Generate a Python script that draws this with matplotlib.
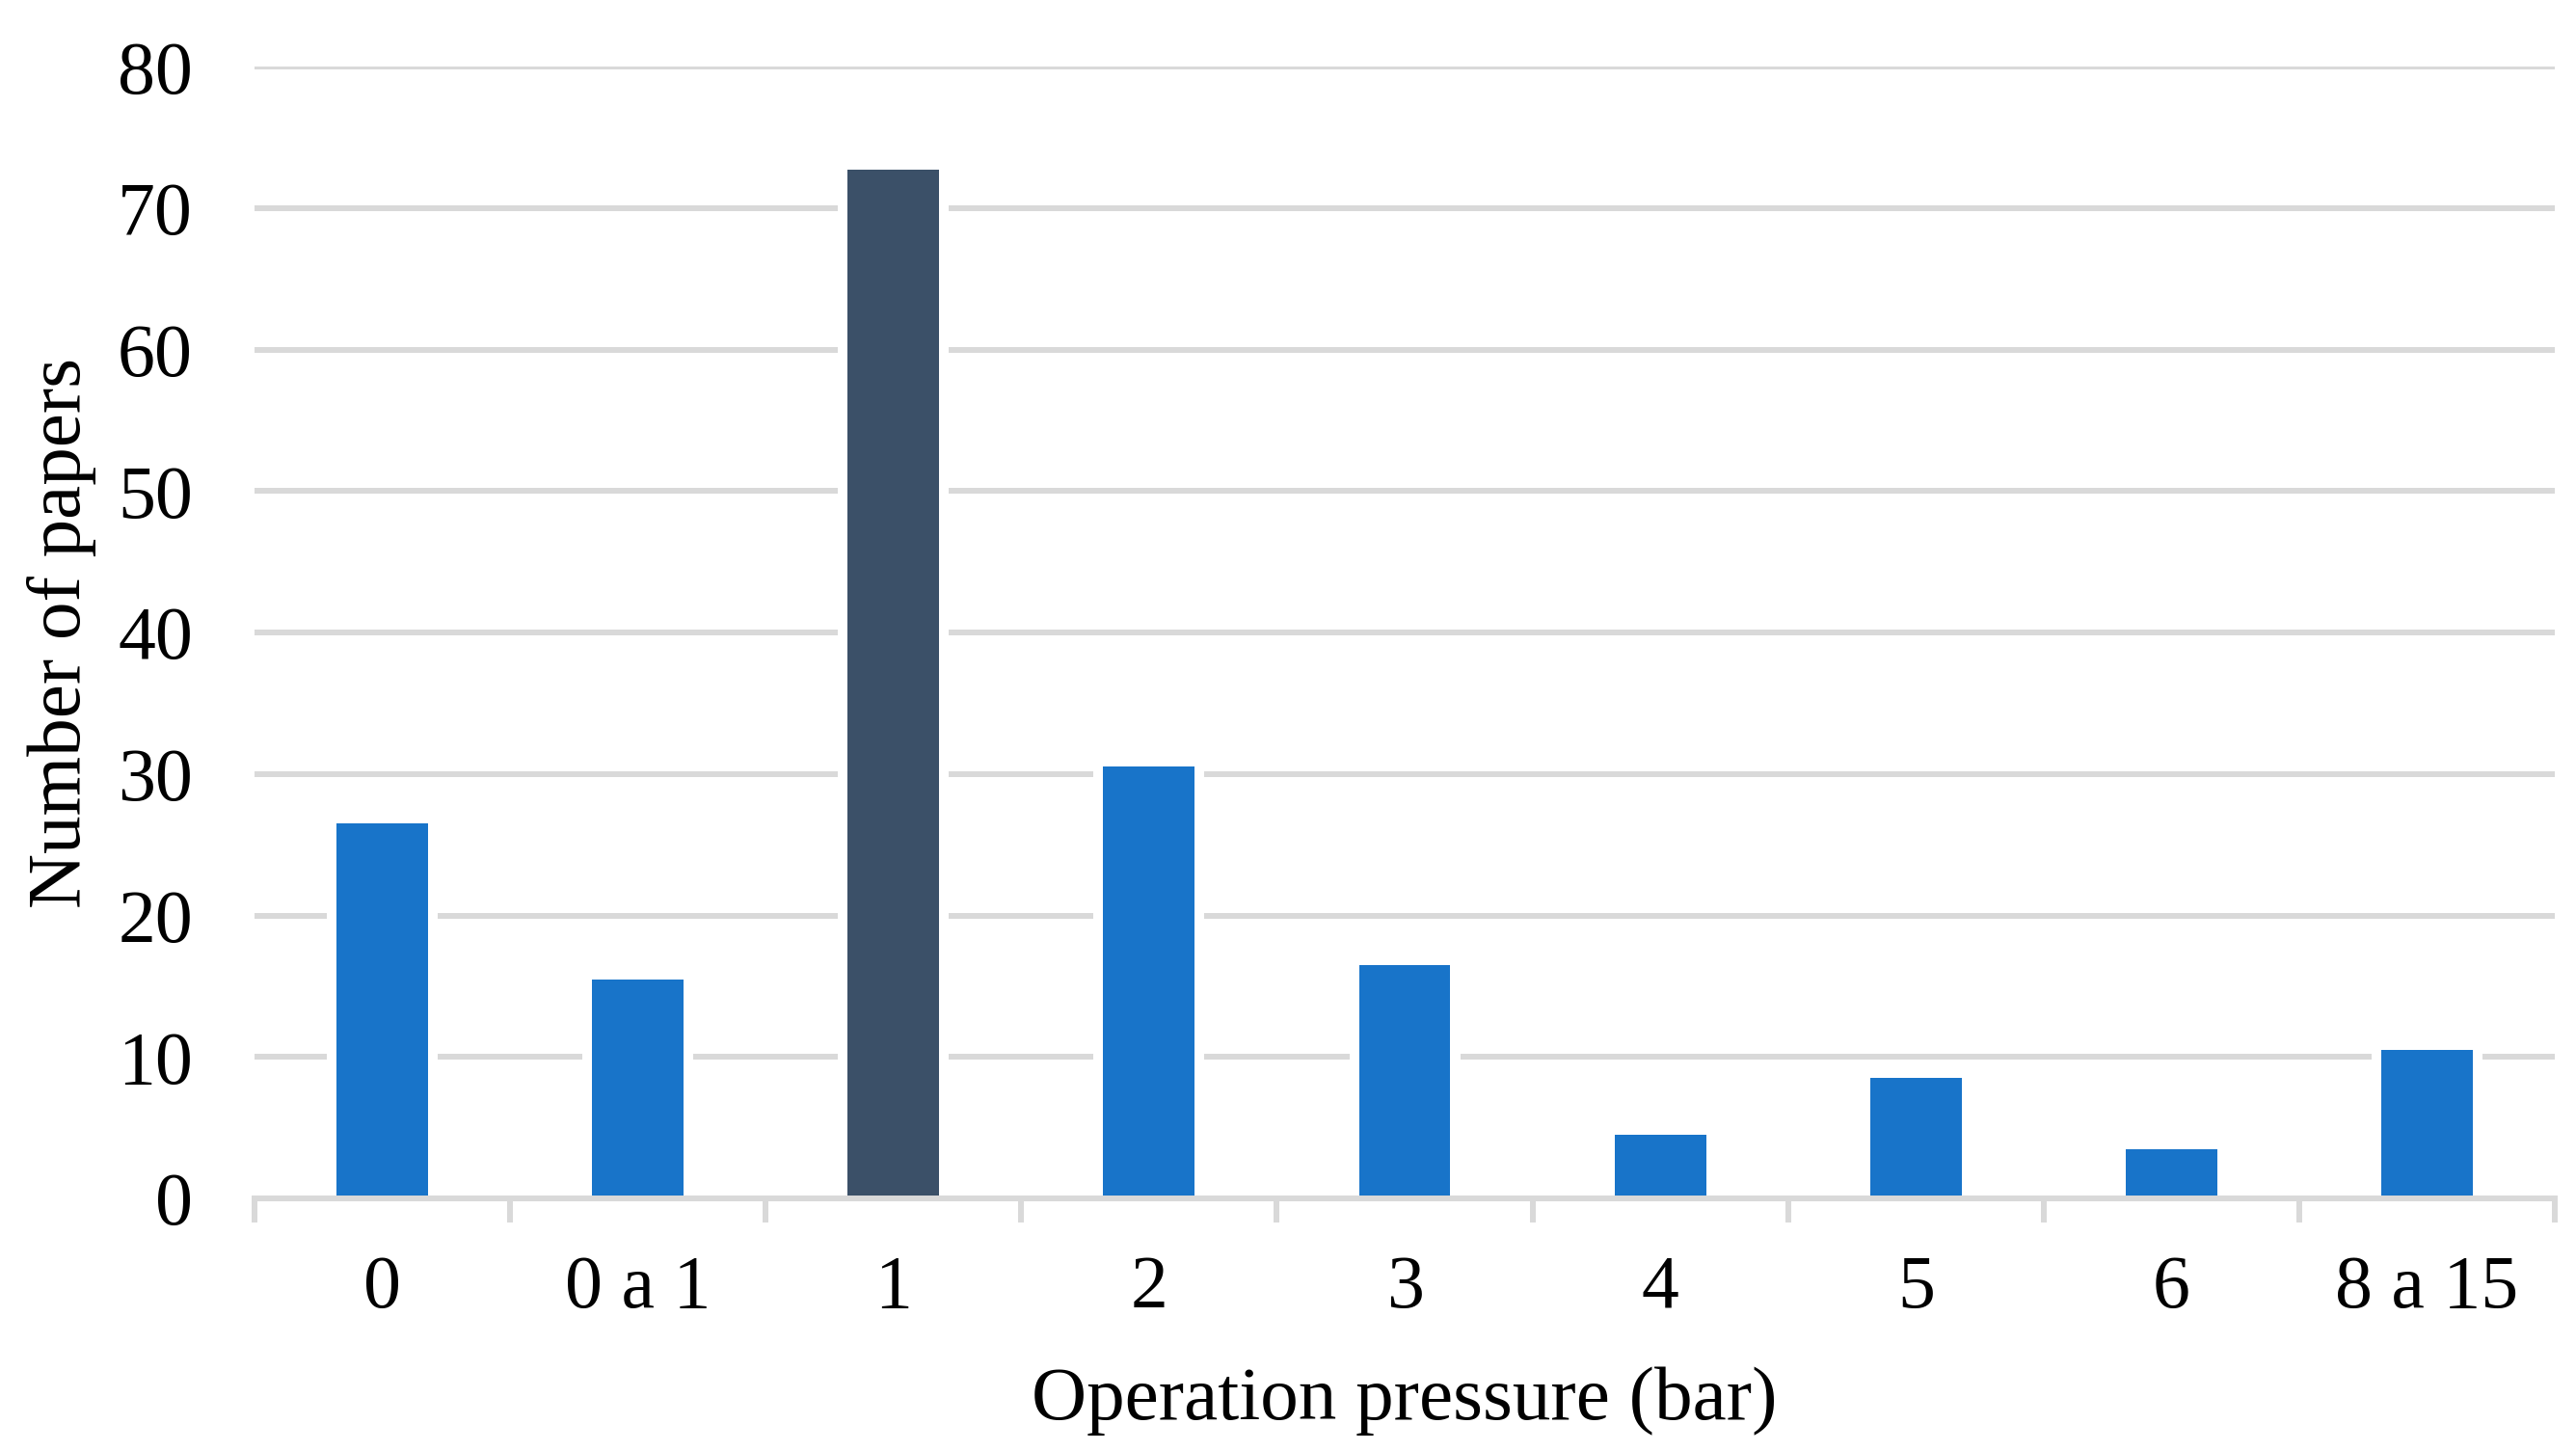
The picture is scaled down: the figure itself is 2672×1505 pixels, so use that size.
import matplotlib
matplotlib.use("Agg")
import matplotlib.pyplot as plt
import numpy as np

categories = ["0", "0 a 1", "1", "2", "3", "4", "5", "6", "8 a 15"]
papers = [26.5, 15.5, 72.7, 30.5, 16.5, 4.5, 8.5, 3.5, 10.5]
highlight = "1"

blue = "#1874C9"
dark = "#3B5068"
grid = "#D9D9D9"

plt.rcParams["font.family"] = ["Liberation Serif", "DejaVu Serif"]

fig = plt.figure(figsize=(26.72, 15.05), dpi=100)
ax = fig.add_axes([0.0988, 0.1741, 0.8930, 0.7799])

x = np.arange(len(categories))
colors = [dark if c == highlight else blue for c in categories]

# white backing so gridlines stop short of each bar
ax.bar(x, papers, width=0.434, color="white", zorder=1)
ax.bar(x, papers, width=0.358, color=colors, zorder=2)

ax.set_xlim(-0.5, len(categories) - 0.5)
ax.set_ylim(0, 80)
ax.set_yticks(range(0, 81, 10))
ax.set_xticks(x)
ax.set_xticklabels(categories)
ax.set_xticks(np.arange(-0.5, len(categories), 1), minor=True)

ax.set_axisbelow(True)
ax.yaxis.grid(True, color=grid, linewidth=4.3)

for s in ["left", "right", "top"]:
    ax.spines[s].set_visible(False)
ax.spines["bottom"].set_color(grid)
ax.spines["bottom"].set_linewidth(4.3)
ax.spines["bottom"].set_zorder(3)

ax.tick_params(axis="y", length=0, labelsize=56, pad=46)
ax.tick_params(axis="x", which="major", length=0, labelsize=56, pad=42)
ax.tick_params(axis="x", which="minor", length=18, width=4.3, color=grid,
               direction="out")

ax.set_xlabel("Operation pressure (bar)", fontsize=57, labelpad=32)
ax.set_ylabel("Number of papers", fontsize=57, labelpad=16)

fig.savefig("out.png", dpi=100)
